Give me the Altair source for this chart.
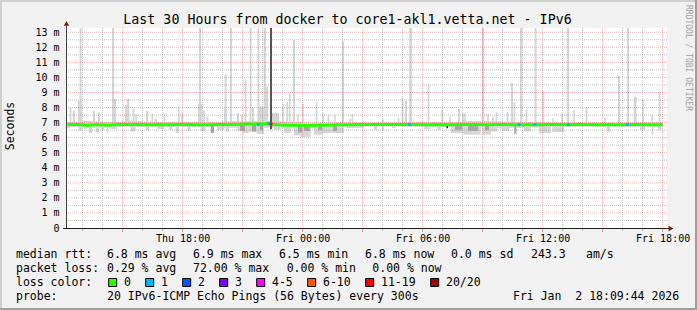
import altair as alt
import pandas as pd

# ---------------- data (hours since Thu 00:00, values in ms) ----------------
X0, X1 = 12.22, 42.22
Y_MAX = 13.28

tick_hours = [18, 24, 30, 36, 42]
tick_labels = ["Thu 18:00", "Fri 00:00", "Fri 06:00", "Fri 12:00", "Fri 18:00"]
y_ticks = list(range(0, 14))
ygrid_major = list(range(1, 14))
ygrid_minor = [0.5, 1.5, 2.5, 3.5, 4.5, 5.5, 6.5, 7.5, 8.5, 9.5, 10.5, 11.5, 12.5]
xgrid_major = [15, 18, 21, 24, 27, 30, 33, 36, 39, 42]
xgrid_minor = [13, 14, 16, 17, 19, 20, 22, 23, 25, 26, 28, 29, 31, 32, 34, 35, 37, 38, 40, 41]

median_t = [12.25 + 0.5 * i for i in range(60)] + [42.0]
median_v = [6.87, 6.88, 6.82, 6.87, 6.83, 6.88, 6.88, 6.87, 6.86, 6.87,
            6.85, 6.87, 6.87, 6.86, 6.85, 6.87, 6.88, 6.88, 6.90, 6.90,
            6.92, 6.85, 6.83, 6.82, 6.80, 6.82, 6.83, 6.85, 6.86, 6.87,
            6.87, 6.88, 6.87, 6.87, 6.88, 6.87, 6.86, 6.87, 6.86, 6.87,
            6.88, 6.87, 6.86, 6.87, 6.87, 6.86, 6.87, 6.86, 6.87, 6.87,
            6.86, 6.87, 6.87, 6.86, 6.87, 6.86, 6.87, 6.87, 6.86, 6.86, 6.85]

base_start = list(range(12, 42))
base_hi = [7.05, 7.10, 7.05, 7.10, 7.05, 7.05, 7.05, 7.05, 7.10, 7.10,
           7.10, 7.05, 7.00, 7.00, 7.00, 7.00, 7.00, 7.05, 7.05, 7.05,
           7.10, 7.10, 7.05, 7.05, 7.00, 7.00, 7.00, 7.00, 7.00, 7.05]
base_lo = [6.70, 6.65, 6.70, 6.70, 6.72, 6.72, 6.70, 6.70, 6.65, 6.60,
           6.65, 6.60, 6.60, 6.65, 6.72, 6.75, 6.75, 6.72, 6.70, 6.70,
           6.65, 6.62, 6.65, 6.70, 6.72, 6.72, 6.72, 6.72, 6.70, 6.72]

# smoke below the median: (start, end, lowest ping)
dips = [(12.22, 12.37, 6.63), (12.82, 12.97, 6.45), (13.07, 13.22, 6.58), (13.32, 13.485, 6.30),
        (13.655, 13.82, 6.37), (13.905, 14.07, 6.52), (14.205, 14.27, 6.30), (14.405, 14.735, 6.58),
        (15.405, 15.655, 6.41), (16.155, 16.32, 6.45), (16.735, 17.07, 6.58), (17.32, 17.485, 6.52),
        (17.655, 17.82, 6.30), (18.235, 18.405, 6.45), (18.905, 19.155, 6.41), (19.72, 20.07, 6.52),
        (20.155, 20.32, 6.41), (20.735, 21.0, 6.45), (21.0, 21.3, 6.30), (21.3, 21.7, 6.40),
        (21.7, 22.07, 6.25), (22.57, 22.905, 6.52), (23.07, 23.405, 6.30), (23.57, 23.9, 6.15),
        (23.9, 24.405, 6.05), (24.57, 25.0, 6.20), (25.0, 25.405, 6.30), (25.405, 26.07, 6.30),
        (26.22, 27.07, 6.63), (27.57, 27.735, 6.52), (27.97, 28.07, 6.45), (28.47, 28.655, 6.63),
        (30.07, 30.405, 6.58), (30.735, 30.905, 6.52), (31.405, 32.07, 6.30), (32.07, 32.905, 6.20),
        (32.985, 33.405, 6.20), (33.405, 33.735, 6.41), (33.985, 34.32, 6.45), (34.57, 34.735, 6.20),
        (35.07, 35.405, 6.41), (35.82, 36.405, 6.30), (36.485, 37.07, 6.37), (39.205, 39.37, 6.40),
        (40.87, 41.12, 6.50), (41.455, 41.535, 6.19), (41.77, 41.955, 6.50)]

# denser smoke patches: (start, end, lowest)
dark = [(19.405, 19.57, 6.30), (20.87, 21.12, 6.45), (21.47, 21.67, 6.40), (21.87, 22.02, 6.50),
        (23.77, 23.97, 6.35), (24.07, 24.37, 6.45), (24.77, 24.97, 6.50), (25.52, 25.72, 6.45),
        (31.62, 31.97, 6.50), (32.27, 32.77, 6.45), (33.12, 33.32, 6.50), (34.595, 34.67, 6.30)]
darkest = [(31.195, 31.27, 6.62, 6.90)]

# smoke above the median: (start, end, highest ping)
spikes = [(12.85, 12.95, 14), (14.47, 14.57, 14), (18.82, 18.92, 14), (20.37, 20.47, 14),
          (21.35, 21.45, 14), (21.74, 21.84, 14), (22.05, 22.17, 14), (23.52, 23.62, 12.5),
          (25.97, 26.07, 12.4), (29.33, 29.47, 14), (32.96, 33.08, 14), (34.87, 34.98, 14),
          (35.60, 35.70, 14), (37.21, 37.33, 14), (40.22, 40.32, 14),
          (20.10, 20.20, 10.2), (21.10, 21.19, 9.85), (30.25, 30.34, 9.55), (34.42, 34.52, 9.63),
          (35.99, 36.08, 9.1), (39.77, 39.87, 10.1), (41.80, 41.90, 9.06), (28.95, 29.04, 8.66),
          (29.12, 29.22, 8.44), (23.32, 23.40, 8.95), (23.19, 23.28, 8.35), (22.98, 23.06, 8.22),
          (23.98, 24.06, 8.24), (24.65, 24.74, 8.35), (22.07, 22.27, 9.39), (12.77, 12.97, 8.44),
          (14.47, 14.67, 8.57), (15.22, 15.34, 8.57), (15.12, 15.22, 8.18), (12.35, 12.44, 8.0),
          (12.52, 12.62, 7.78), (13.52, 13.62, 7.78), (13.77, 13.87, 7.69), (15.50, 15.59, 7.91),
          (15.63, 15.71, 7.56), (16.17, 16.27, 7.78), (16.44, 16.53, 7.56), (16.60, 16.72, 7.25),
          (17.05, 17.14, 7.62), (17.76, 17.85, 8.06), (17.94, 18.03, 7.62), (18.77, 18.99, 8.24),
          (19.03, 19.11, 7.78), (19.20, 19.29, 7.4), (20.07, 20.22, 7.9), (20.72, 20.82, 7.62),
          (20.93, 21.01, 7.5), (21.47, 21.57, 7.96), (21.82, 22.07, 8.06), (22.47, 22.82, 7.62),
          (23.73, 23.81, 7.56), (24.98, 25.06, 7.62), (25.25, 25.34, 7.5), (25.58, 25.66, 7.5),
          (26.33, 26.41, 7.25), (26.45, 26.54, 7.56), (27.98, 28.06, 7.2), (28.75, 28.84, 7.33),
          (30.94, 31.03, 7.83), (31.33, 31.41, 7.4), (31.77, 31.87, 7.9), (31.98, 32.06, 7.62),
          (32.08, 32.16, 7.62), (33.23, 33.31, 7.56), (33.48, 33.56, 7.4), (33.65, 33.74, 7.66),
          (34.20, 34.29, 7.7), (34.55, 34.64, 8.35), (35.15, 35.24, 7.83), (36.48, 36.56, 7.3),
          (36.93, 37.01, 7.62), (37.53, 37.61, 7.84), (38.15, 38.24, 8.0), (39.08, 39.16, 7.3),
          (40.55, 40.70, 8.73), (40.98, 41.06, 8.5), (41.43, 41.51, 7.5)]

# the slot with heavy loss (few pings, dark smoke)
loss_column = [(22.37, 22.47, 6.56, 14)]

loss_t = [21.795, 22.295, 22.42, 29.345, 34.82, 35.62, 37.295, 40.255]
loss_n = [1, 1, 14, 1, 1, 1, 1, 1]
loss_rtt = [6.87, 6.95, 6.90, 6.87, 6.87, 6.87, 6.87, 6.87]

loss_labels = ["0", "1", "2", "3", "4-5", "6-10", "11-19", "20/20"]
loss_lower = [0, 1, 2, 3, 4, 6, 11, 20]
loss_colors = ["#26ff00", "#00b8ff", "#0059ff", "#7e00ff", "#ff00ff", "#ff5500", "#ff0000", "#a10000"]

rtt_stats = ["6.8 ms avg", "6.9 ms max", "6.5 ms min", "6.8 ms now", "0.0 ms sd", "243.3", "am/s"]
loss_stats = ["0.29 % avg", "72.00 % max", "0.00 % min", "0.00 % now"]
probe_text = "20 IPv6-ICMP Echo Pings (56 Bytes) every 300s"
date_text = "Fri Jan\u00a0 2 18:09:44 2026"
title_text = "Last 30 Hours from docker to core1-akl1.vetta.net - IPv6"

# ---------------- chart ----------------
FONT = "DejaVu Sans Mono"
OX, OY = 67, 28  # plot origin in page pixels
XS = alt.Scale(domain=[X0, X1], nice=False, zero=False)
YS = alt.Scale(domain=[0, Y_MAX], nice=False, zero=False)

xexpr = "".join(f"datum.value == {h} ? '{l}' : " for h, l in zip(tick_hours, tick_labels)) + "''"
XAX = alt.Axis(values=tick_hours, labelExpr=xexpr, grid=False, ticks=False, tickSize=0, domain=False,
               labelFont=FONT, labelFontSize=10, labelColor="black", labelPadding=13,
               labelBaseline="alphabetic", labelFlush=False, labelOverlap=False, title=None)
YAX = alt.Axis(values=y_ticks, labelExpr="datum.value == 0 ? '0' : datum.value + ' m'", grid=False,
               ticks=False, tickSize=0, domain=False, labelFont=FONT, labelFontSize=10,
               labelColor="black", labelPadding=8, labelBaseline="middle", labelFlush=False,
               labelOverlap=False, title=None)


def X(f):
    return alt.X(f, type="quantitative", scale=XS, axis=XAX)


def Y(f):
    return alt.Y(f, type="quantitative", scale=YS, axis=YAX)


def rects(df, color):
    return alt.Chart(df).mark_rect(color=color, clip=True).encode(
        x=X("s"), x2="e", y=Y("lo"), y2="hi")


base_df = pd.DataFrame({"s": base_start, "e": [b + 1 for b in base_start], "lo": base_lo, "hi": base_hi})
dips_df = pd.DataFrame([{"s": s, "e": e, "lo": lo, "hi": 6.9} for s, e, lo in dips])
dark_df = pd.DataFrame([{"s": s, "e": e, "lo": lo, "hi": 6.85} for s, e, lo in dark])
darkest_df = pd.DataFrame([{"s": s, "e": e, "lo": lo, "hi": hi} for s, e, lo, hi in darkest])
spike_df = pd.DataFrame([{"s": s, "e": e, "lo": 6.95, "hi": top} for s, e, top in spikes])
lcol_df = pd.DataFrame([{"s": s, "e": e, "lo": lo, "hi": hi} for s, e, lo, hi in loss_column])

LIGHT = "#d6d6d6"
layers = [
    rects(base_df, LIGHT),
    rects(dips_df, LIGHT),
    rects(spike_df, LIGHT),
    rects(dark_df, "#a6a6a6"),
    rects(darkest_df, "#2a2a2a"),
    rects(lcol_df, "#555555"),
]

# grid
gy_maj = pd.DataFrame({"v": ygrid_major})
gy_min = pd.DataFrame({"v": ygrid_minor})
gx_maj = pd.DataFrame({"h": xgrid_major})
gx_min = pd.DataFrame({"h": xgrid_minor})
MINOR = dict(color="#8f8f8f", opacity=0.5, strokeDash=[1, 1], strokeWidth=1)
MAJOR = dict(color="#de5050", opacity=0.42, strokeDash=[1, 1], strokeWidth=1)
layers += [
    alt.Chart(gy_min).mark_rule(**MINOR).encode(y=Y("v")),
    alt.Chart(gx_min).mark_rule(**MINOR).encode(x=X("h")),
    alt.Chart(gy_maj).mark_rule(**MAJOR).encode(y=Y("v")),
    alt.Chart(gx_maj).mark_rule(**MAJOR).encode(x=X("h")),
    alt.Chart(gx_min).mark_rule(color="#8f8f8f", opacity=0.6, strokeWidth=1).encode(x=X("h"), y=alt.value(201), y2=alt.value(203)),
    alt.Chart(gx_maj).mark_rule(color="#de5050", opacity=0.6, strokeWidth=1).encode(x=X("h"), y=alt.value(201), y2=alt.value(204)),
]

# median line and loss colouring
med_df = pd.DataFrame({"t": median_t, "v": median_v})
layers.append(alt.Chart(med_df).mark_line(color=loss_colors[0], strokeWidth=3, clip=True).encode(x=X("t"), y=Y("v")))


def loss_color(n):
    c = loss_colors[0]
    for lo, col in zip(loss_lower, loss_colors):
        if n >= lo:
            c = col
    return c


loss_df = pd.DataFrame({"s": [t - 0.07 for t in loss_t], "e": [t + 0.07 for t in loss_t],
                        "lo": [r - 0.1 for r in loss_rtt], "hi": [r + 0.1 for r in loss_rtt],
                        "c": [loss_color(n) for n in loss_n]})
layers.append(alt.Chart(loss_df).mark_rect(clip=True).encode(
    x=X("s"), x2="e", y=Y("lo"), y2="hi", color=alt.Color("c:N", scale=None)))

# axes lines and arrows
one = alt.Data(values=[{"a": 1}])
layers += [
    alt.Chart(one).mark_rule(color="#404040", strokeWidth=1).encode(x=alt.value(-0.5), y=alt.value(-2), y2=alt.value(201)),
    alt.Chart(one).mark_rule(color="#202020", strokeWidth=1).encode(y=alt.value(200.5), x=alt.value(-4), x2=alt.value(602)),
    alt.Chart(one).mark_point(shape="triangle-up", filled=True, size=30, color="#801010", opacity=1).encode(
        x=alt.value(-0.5), y=alt.value(-4.5)),
    alt.Chart(one).mark_point(shape="triangle-right", filled=True, size=30, color="#801010", opacity=1).encode(
        x=alt.value(604), y=alt.value(200.5)),
]


def txt(s, x, y, size=11.5, align="left", baseline="alphabetic", angle=0, color="black"):
    return alt.Chart(one).mark_text(text=s, font=FONT, fontSize=size, align=align, baseline=baseline,
                                    angle=angle, color=color).encode(x=alt.value(x - OX), y=alt.value(y - OY))


layers.append(txt(title_text, 347.5, 24, size=13.3, align="center"))
layers.append(txt("Seconds", 11, 126, size=11.5, align="center", baseline="middle", angle=270))
layers.append(txt("RRDTOOL / TOBI OETIKER", 688, 5, size=8, align="left", baseline="middle", angle=90, color="#a0a0a0"))

L1, L2, L3, L4 = 258.3, 272.0, 285.8, 299.5
layers.append(txt("median rtt:", 16, L1))
for s, xx in zip(rtt_stats, [107, 193, 279, 365, 451, 531, 586]):
    layers.append(txt(s, xx, L1))
layers.append(txt("packet loss:", 16, L2))
for s, xx in zip(loss_stats, [107, 193, 286.7, 372.3]):
    layers.append(txt(s, xx, L2))
layers.append(txt("loss color:", 16, L3))

sq_x = []
cur = 108.7
for lab in loss_labels:
    sq_x.append(cur)
    cur += 30 + 7 * len(lab)
sq_df = pd.DataFrame({"x": [v - OX for v in sq_x], "x2": [v - OX + 8 for v in sq_x], "c": loss_colors})
layers.append(alt.Chart(sq_df).mark_rect(stroke="black", strokeWidth=1).encode(
    x=alt.X("x:Q", scale=None), x2="x2", y=alt.value(278.5 - OY), y2=alt.value(286.5 - OY),
    color=alt.Color("c:N", scale=None)))
for lab, xx in zip(loss_labels, sq_x):
    layers.append(txt(lab, xx + 15.3, L3))

layers.append(txt("probe:", 16, L4))
layers.append(txt(probe_text, 107, L4))
layers.append(txt(date_text, 513, L4))

# 3D frame of the canvas
layers += [
    alt.Chart(one).mark_rule(color="#cfcfcf", strokeWidth=2).encode(x=alt.value(1 - OX), y=alt.value(-OY), y2=alt.value(310 - OY)),
    alt.Chart(one).mark_rule(color="#cfcfcf", strokeWidth=2).encode(y=alt.value(1 - OY), x=alt.value(-OX), x2=alt.value(697 - OX)),
    alt.Chart(one).mark_rule(color="#9e9e9e", strokeWidth=2).encode(x=alt.value(696 - OX), y=alt.value(-OY), y2=alt.value(310 - OY)),
    alt.Chart(one).mark_rule(color="#9e9e9e", strokeWidth=2).encode(y=alt.value(309 - OY), x=alt.value(-OX), x2=alt.value(697 - OX)),
]

chart = alt.layer(*layers).properties(
    width=600, height=200,
    padding={"left": OX, "top": OY, "right": 30, "bottom": 82},
    autosize=alt.AutoSizeParams(type="none"),
    background="#f2f2f2",
).configure_view(stroke=None, fill="white")

chart.save("out.html", embed_options={"renderer": "svg", "actions": False})
